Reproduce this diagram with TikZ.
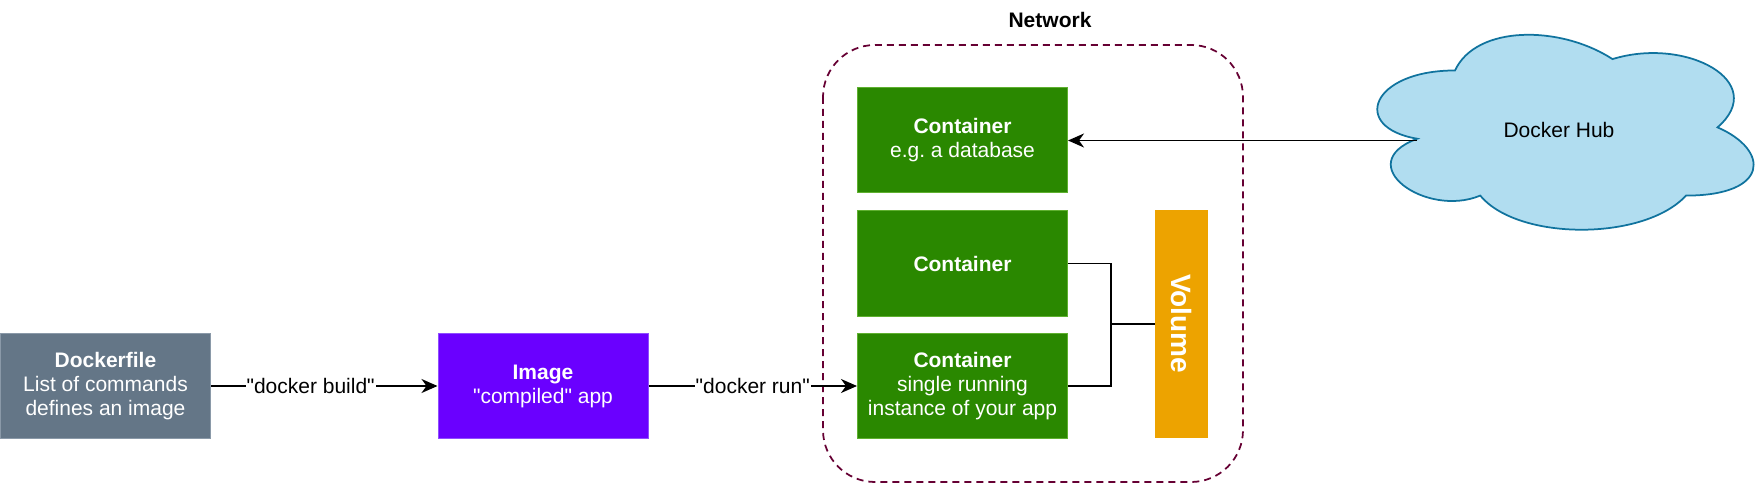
\documentclass[tikz,border=0pt]{standalone}
\usepackage{fontspec}
\setmainfont{Liberation Sans}[Ligatures=TeXOff]
\usetikzlibrary{arrows.meta}
\definecolor{slatefill}{HTML}{647687}
\definecolor{slatedraw}{HTML}{8A99A8}
\definecolor{violetfill}{HTML}{6A00FF}
\definecolor{violetdraw}{HTML}{8F4DFF}
\definecolor{greenfill}{HTML}{2A8800}
\definecolor{greendraw}{HTML}{5FB030}
\definecolor{amberfill}{HTML}{EDA300}
\definecolor{netcol}{HTML}{660033}
\definecolor{cloudfill}{HTML}{B1DDF0}
\definecolor{clouddraw}{HTML}{10739E}
\tikzset{
  box/.style={rectangle, minimum width=210pt, minimum height=105pt, inner sep=0pt,
    align=center, text=white, line width=1pt, font=\fontsize{21}{24}\selectfont},
  slatebox/.style={box, fill=slatefill, draw=slatedraw},
  violetbox/.style={box, fill=violetfill, draw=violetdraw},
  greenbox/.style={box, fill=greenfill, draw=greendraw},
  volbox/.style={rectangle, minimum width=52pt, minimum height=227.5pt, inner sep=0pt,
    fill=amberfill, draw=amberfill},
  conn/.style={line width=1.75pt, draw=black},
  arr/.style={conn, -{Stealth[length=16pt, width=14pt, inset=5pt]}},
  elabel/.style={fill=white, inner sep=1pt, font=\fontsize{21}{24}\selectfont}
}
\newcommand{\hdr}[1]{{\bfseries #1}}
\frenchspacing
\begin{document}
\begin{tikzpicture}[x=1pt, y=-1pt]
\useasboundingbox (0,0) rectangle (1762,497);

% Network container
\draw[netcol, line width=1.75pt, dash pattern=on 7pt off 5pt, rounded corners=52pt]
  (823,45) rectangle (1243,482);
\node[font=\fontsize{21}{24}\selectfont\bfseries] (netlabel) at (1050,20) {Network};

% Boxes
\node[slatebox] (df) at (105.5,386) {\hdr{Dockerfile}\\List of commands\\defines an image};
\node[violetbox] (img) at (543,386) {\hdr{Image}\\"compiled" app};
\node[greenbox] (c1) at (962.5,140.5) {\hdr{Container}\\e.g. a database};
\node[greenbox] (c2) at (962.5,263.5) {\hdr{Container}};
\node[greenbox] (c3) at (962.5,386) {\hdr{Container}\\single running\\instance of your app};

\node[volbox] (vol) at (1181,323.75) {};
\node[rotate=-90, text=white, font=\fontsize{28}{28}\selectfont\bfseries] (voltext) at (vol.center) {Volume};

% Cloud
\begin{scope}[shift={(1350,13.6)}, x=420pt, y=-227.5pt]
\draw[fill=cloudfill, draw=clouddraw, line width=1.75pt]
  (0.25,0.25) .. controls (0.05,0.25) and (0,0.5) .. (0.16,0.55)
  .. controls (0,0.66) and (0.18,0.9) .. (0.31,0.8)
  .. controls (0.4,1) and (0.7,1) .. (0.8,0.8)
  .. controls (1,0.8) and (1,0.6) .. (0.875,0.5)
  .. controls (1,0.3) and (0.8,0.1) .. (0.625,0.2)
  .. controls (0.5,0.05) and (0.3,0.05) .. (0.25,0.25) -- cycle;
\coordinate (hubL) at (0.16,0.55);
\end{scope}
\node[font=\fontsize{21}{24}\selectfont] (hub) at (1559,130) {Docker Hub};

% Connectors
\draw[arr] (df.east) -- (img.west) node[elabel, pos=0.44] {"docker build"};
\draw[arr] (img.east) -- (c3.west) node[elabel, pos=0.5] {"docker run"};
\draw[arr] (hubL |- c1.east) -- (c1.east);

\coordinate (j) at (1111,323.75);
\draw[conn] (c2.east) -| (j) -- (vol.west);
\draw[conn] (c3.east) -| (j);
\end{tikzpicture}
\end{document}
